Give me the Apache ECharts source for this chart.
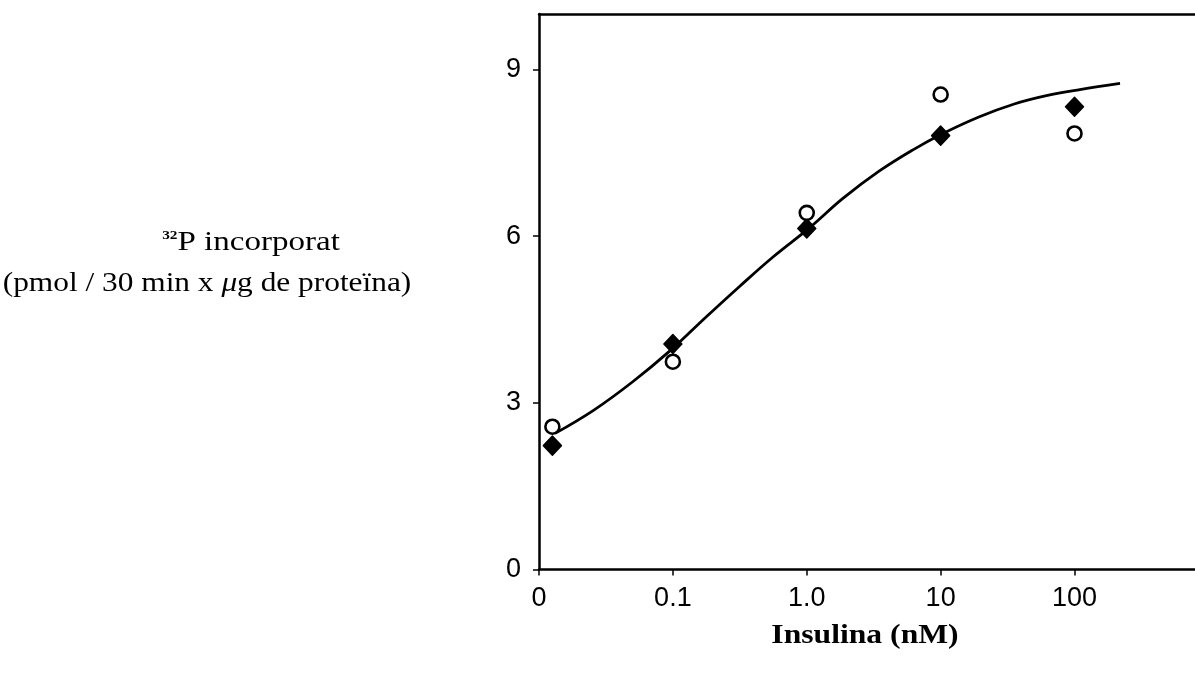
<!DOCTYPE html>
<html>
<head>
<meta charset="utf-8">
<script src="https://cdn.jsdelivr.net/npm/echarts@6/dist/echarts.min.js"></script>
<style>
html,body{margin:0;padding:0;background:#fff;}
#chart{width:1195px;height:678px;}
</style>
</head>
<body>
<div id="chart"></div>
<script>
// Tick positions on the log10(insulin) axis and their printed labels
var xTickValues = [-2, -1, 0, 1, 2];
var xTickLabels = ['0', '0.1', '1.0', '10', '100'];
var yTickValues = [0, 3, 6, 9];

// Insulin doses (log10 nM position; the zero dose is drawn just right of the axis)
var insulinLog = [-1.9, -1, 0, 1, 2];
// Filled diamonds
var filledVals = [2.23, 4.06, 6.14, 7.81, 8.33];
// Open circles
var openVals = [2.57, 3.74, 6.42, 8.55, 7.85];

// Fitted curve
var curveX = [-1.88, -1.59, -1.30, -1.02, -0.75, -0.50, -0.25, 0.02, 0.27, 0.54, 0.79, 1.01, 1.29, 1.55, 1.79, 2.04, 2.34];
var curveY = [2.45, 2.87, 3.38, 3.94, 4.55, 5.10, 5.63, 6.15, 6.68, 7.17, 7.55, 7.84, 8.15, 8.38, 8.53, 8.64, 8.75];

function zip(a, b) { return a.map(function (v, i) { return [v, b[i]]; }); }

var chart = echarts.init(document.getElementById('chart'), null, { renderer: 'canvas' });
var axisFont = { fontFamily: 'Liberation Sans, Arial, sans-serif', fontSize: 27, color: '#000' };

chart.setOption({
  animation: false,
  backgroundColor: '#fff',
  grid: { left: 539, right: 0, top: 14, bottom: 108.5 },
  xAxis: [{
    type: 'value', min: -2, max: 2.9, interval: 1,
    axisLine: { show: true, onZero: false, lineStyle: { color: '#000', width: 2.5 } },
    axisTick: { show: true, inside: false, length: 6, customValues: xTickValues, lineStyle: { color: '#000', width: 1.5 } },
    splitLine: { show: false },
    axisLabel: Object.assign({
      margin: 16,
      customValues: xTickValues,
      formatter: function (v) {
        var i = xTickValues.indexOf(v);
        return i >= 0 ? xTickLabels[i] : '';
      }
    }, axisFont)
  }, {
    type: 'value', min: -2, max: 2.9, position: 'top',
    axisLine: { show: true, onZero: false, lineStyle: { color: '#000', width: 2.5 } },
    axisTick: { show: false }, axisLabel: { show: false }, splitLine: { show: false }
  }],
  yAxis: {
    type: 'value', min: 0, max: 10, interval: 3,
    axisLine: { show: true, onZero: false, lineStyle: { color: '#000', width: 2.5 } },
    axisTick: { show: true, inside: false, length: 6, customValues: yTickValues, lineStyle: { color: '#000', width: 1.5 } },
    splitLine: { show: false },
    axisLabel: Object.assign({
      margin: 18,
      customValues: yTickValues,
      formatter: function (v) { return yTickValues.indexOf(v) >= 0 ? String(v) : ''; }
    }, axisFont)
  },
  graphic: [
    {
      type: 'text', x: 251, y: 243, scaleX: 1.18,
      style: {
        text: '{sup|32}P incorporat', textAlign: 'center', textVerticalAlign: 'middle',
        font: '28px "Liberation Serif", "Times New Roman", serif', fill: '#000',
        rich: {
          sup: { fontSize: 13, fontFamily: 'Liberation Serif', fontWeight: 'bold', verticalAlign: 'top', padding: [0, 0, 12, 0], fill: '#000' }
        }
      }
    },
    {
      type: 'text', x: 207, y: 284, scaleX: 1.12,
      style: {
        text: '(pmol / 30 min x {it|μ}g de proteïna)', textAlign: 'center', textVerticalAlign: 'middle',
        font: '28px "Liberation Serif", "Times New Roman", serif', fill: '#000',
        rich: { it: { fontStyle: 'italic', fontSize: 28, fontFamily: 'Liberation Serif', fill: '#000' } }
      }
    },
    {
      type: 'text', x: 865, y: 636, scaleX: 1.13,
      style: {
        text: 'Insulina (nM)', textAlign: 'center', textVerticalAlign: 'middle',
        font: 'bold 28px "Liberation Serif", "Times New Roman", serif', fill: '#000'
      }
    }
  ],
  series: [
    {
      type: 'line', name: 'ajust', data: zip(curveX, curveY), smooth: 0.4,
      showSymbol: false, lineStyle: { color: '#000', width: 2.8 }, z: 2
    },
    {
      type: 'scatter', name: 'filled', data: zip(insulinLog, filledVals),
      symbol: 'diamond', symbolSize: [18, 19],
      itemStyle: { color: '#000', opacity: 1, borderColor: '#000', borderWidth: 1.5, borderJoin: 'round' }, z: 3
    },
    {
      type: 'scatter', name: 'open', data: zip(insulinLog, openVals),
      symbol: 'circle', symbolSize: 14,
      itemStyle: { color: '#fff', opacity: 1, borderColor: '#000', borderWidth: 2.6 }, z: 4
    }
  ]
});
</script>
</body>
</html>
